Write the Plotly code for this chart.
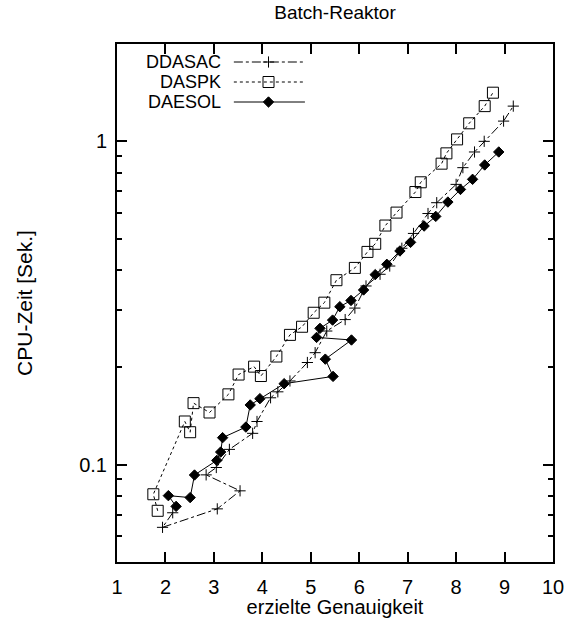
import plotly.graph_objects as go

# ---- data ----
ddasac_x = [2.15, 1.94, 3.07, 3.54, 2.84, 3.05, 3.32, 3.80, 3.89, 4.17, 4.32, 4.57, 4.93, 5.09,
            5.33, 5.71, 5.91, 6.14, 6.43, 6.63, 6.88, 7.12, 7.42, 7.60, 8.00, 8.14, 8.38, 8.58,
            8.98, 9.18]
ddasac_y = [0.071, 0.064, 0.073, 0.083, 0.093, 0.098, 0.1115, 0.125, 0.136, 0.161, 0.168, 0.1815,
            0.207, 0.222, 0.259, 0.281, 0.305, 0.357, 0.388, 0.4115, 0.467, 0.519, 0.598, 0.646,
            0.736, 0.829, 0.927, 1.0, 1.155, 1.285]

daspk_x = [1.84, 1.75, 2.40, 2.51, 2.58, 2.91, 3.30, 3.51, 3.83, 3.97, 4.29, 4.57, 4.82, 5.06,
           5.28, 5.53, 5.91, 6.17, 6.33, 6.54, 6.77, 7.16, 7.27, 7.70, 7.80, 8.02, 8.27, 8.59, 8.76]
daspk_y = [0.072, 0.081, 0.136, 0.126, 0.155, 0.145, 0.165, 0.190, 0.201, 0.188, 0.216, 0.252,
           0.267, 0.295, 0.317, 0.372, 0.406, 0.455, 0.482, 0.549, 0.602, 0.697, 0.747, 0.853,
           0.918, 1.014, 1.137, 1.285, 1.414]

daesol_x = [2.22, 2.06, 2.51, 2.60, 3.06, 3.14, 3.18, 3.66, 3.75, 3.95, 4.45, 5.46, 5.30, 5.84,
            5.12, 5.19, 5.45, 5.60, 5.83, 6.09, 6.33, 6.57, 6.84, 7.06, 7.34, 7.58, 7.83, 8.09,
            8.34, 8.59, 8.88]
daesol_y = [0.0743, 0.0802, 0.0791, 0.0929, 0.1031, 0.1094, 0.1212, 0.1307, 0.153, 0.160, 0.178,
            0.1875, 0.212, 0.243, 0.2475, 0.264, 0.280, 0.308, 0.322, 0.347, 0.387, 0.4165, 0.458,
            0.487, 0.547, 0.586, 0.649, 0.710, 0.763, 0.845, 0.927]

series_names = ["DDASAC", "DASPK", "DAESOL"]
x_ticks = [1, 2, 3, 4, 5, 6, 7, 8, 9, 10]
y_ticks = [0.1, 1]
y_tick_labels = ["0.1", "1"]
y_minor = [0.05, 0.06, 0.07, 0.08, 0.09, 0.2, 0.3, 0.4, 0.5, 0.6, 0.7, 0.8, 0.9, 2]

FONT = "Liberation Sans, Arial, sans-serif"

styles = [
    dict(dash="dashdot", symbol="cross-thin-open", size=8, mcolor="black"),
    dict(dash="dot", symbol="square-open", size=11, mcolor="black"),
    dict(dash="solid", symbol="diamond", size=8, mcolor="black"),
]
xs = [ddasac_x, daspk_x, daesol_x]
ys = [ddasac_y, daspk_y, daesol_y]

fig = go.Figure()
for name, x, y, st in zip(series_names, xs, ys, styles):
    fig.add_trace(go.Scatter(
        x=x, y=y, name=name, mode="lines+markers",
        line=dict(color="black", width=1, dash=st["dash"]),
        marker=dict(symbol=st["symbol"], size=st["size"], color=st["mcolor"],
                    line=dict(color="black", width=1)),
        showlegend=False,
    ))

# manual legend (names right-aligned, sample line to their right), on an overlay axis
leg_rows = [(562 - 62) / 518, (562 - 82) / 518, (562 - 102) / 518]
for name, st, ry in zip(series_names, styles, leg_rows):
    fig.add_trace(go.Scatter(
        x=[0.268, 0.3475, 0.431], y=[ry, ry, ry], xaxis="x2", yaxis="y2",
        mode="lines", line=dict(color="black", width=1, dash=st["dash"]),
        showlegend=False, hoverinfo="skip",
    ))
    fig.add_trace(go.Scatter(
        x=[0.3475], y=[ry], xaxis="x2", yaxis="y2", mode="markers",
        marker=dict(symbol=st["symbol"], size=st["size"], color=st["mcolor"],
                    line=dict(color="black", width=1)),
        showlegend=False, hoverinfo="skip",
    ))
    fig.add_annotation(text=name, xref="paper", yref="paper", x=0.2408, y=ry,
                       xanchor="right", yanchor="middle", showarrow=False, borderpad=0,
                       font=dict(family=FONT, size=18, color="black"))

axis_common = dict(showline=True, linecolor="black", linewidth=2, mirror="ticks",
                   ticks="inside", tickcolor="black", tickwidth=1.5, ticklen=10,
                   showgrid=False, zeroline=False,
                   tickfont=dict(family=FONT, size=20, color="black"))

fig.update_layout(
    width=567, height=618,
    margin=dict(l=117, r=14, t=44, b=56),
    paper_bgcolor="white", plot_bgcolor="white",
    showlegend=False,
    title=dict(text="Batch-Reaktor", x=0.5, xref="paper", xanchor="center",
               y=1 - 12 / 618, yref="container", yanchor="middle",
               font=dict(family=FONT, size=19, color="black")),
    xaxis=dict(range=[1, 10], tickvals=x_ticks, ticklabelstandoff=6,
               title=dict(text="erzielte Genauigkeit", standoff=4,
                          font=dict(family=FONT, size=20, color="black")),
               automargin=False, **axis_common),
    yaxis=dict(type="log", range=[-1.30103, 0.30103], tickvals=y_ticks, ticktext=y_tick_labels,
               ticklabelstandoff=4,
               minor=dict(tickvals=y_minor, ticks="inside", ticklen=5, tickcolor="black",
                          tickwidth=1.5, showgrid=False),
               title=dict(text="CPU-Zeit [Sek.]", standoff=41,
                          font=dict(family=FONT, size=21, color="black")),
               automargin=False, **axis_common),
    xaxis2=dict(range=[0, 1], overlaying="x", visible=False, fixedrange=True),
    yaxis2=dict(range=[0, 1], overlaying="y", visible=False, fixedrange=True),
)

fig.write_html("out.html")
